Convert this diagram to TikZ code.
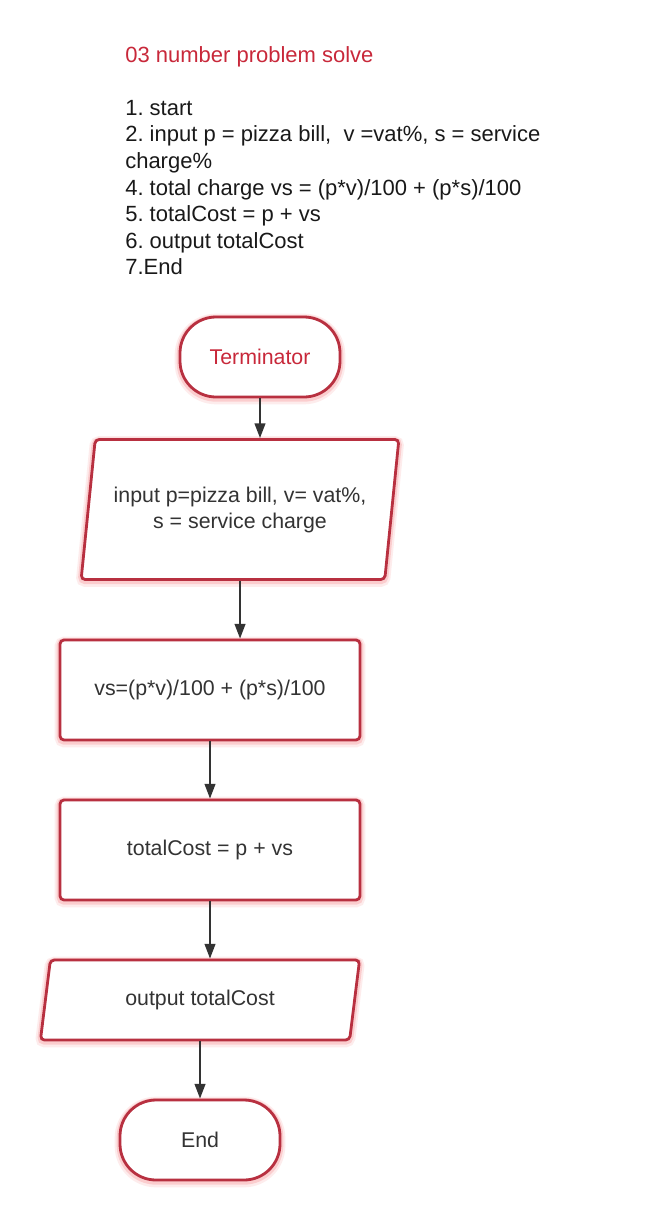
\documentclass[tikz,border=0pt]{standalone}
\usepackage{fontspec}
\setmainfont{Liberation Sans}
\usetikzlibrary{shapes.geometric,arrows.meta}
\definecolor{lucidred}{HTML}{B83040}
\definecolor{titlered}{HTML}{C8283A}
\definecolor{inkgray}{HTML}{333333}
\frenchspacing

\begin{document}
\begin{tikzpicture}[x=0.75pt,y=-0.75pt,
  glow/.style={preaction={draw=red!70!lucidred,draw opacity=0.08,line width=8pt,transform canvas={yshift=-1.5pt}},
               preaction={draw=red!70!lucidred,draw opacity=0.14,line width=5pt,transform canvas={yshift=-1pt}}},
  box/.style={draw=lucidred,line width=2.1pt,fill=white,glow,text=inkgray,
              font=\fontsize{16pt}{19.5pt}\selectfont,align=center},
  terminal/.style={box,rectangle,rounded corners=27pt,minimum width=120pt,minimum height=60pt},
  process/.style={box,rectangle,rounded corners=3pt,minimum width=225pt,minimum height=75pt},
  io/.style={box,trapezium,trapezium stretches=true,rounded corners=3pt,inner sep=0pt},
  flow/.style={draw=inkgray,line width=1.4pt,-{Triangle[length=11pt,width=8pt]}},
  listtext/.style={inner sep=0pt,align=left,
                   font=\fontsize{16.5pt}{19.9pt}\selectfont}]
        \useasboundingbox (0,0) rectangle (660,1220);
        % algorithm text
        \node (title) at (125,63) [listtext, anchor=base west, text=titlered] {03 number problem solve};
        \node (steps) at (125,100) [listtext, anchor=north west, text=black!90] {1. start\\
            2. input p = pizza bill,\ \ v =vat\%, s = service\\
            charge\%\\
            4. total charge vs = (p*v)/100 + (p*s)/100\\
            5. totalCost = p + vs\\
            6. output totalCost\\
            7.End};
        % flowchart
        \node (start) at (260,357) [terminal, text=titlered] {Terminator};
        \node (input) at (240,509.5) [io, trapezium left angle=75, trapezium right angle=105,
            minimum width=238.5pt, minimum height=105pt] {input p=pizza bill, v= vat\%,\\s = service charge};
        \node (vs) at (210,690) [process] {vs=(p*v)/100 + (p*s)/100};
        \node (total) at (210,850) [process] {totalCost = p + vs};
        \node (output) at (200,1000) [io, trapezium left angle=76, trapezium right angle=104,
            minimum width=239.5pt, minimum height=60pt] {output totalCost};
        \node (end) at (200,1140) [terminal] {End};
        \draw [flow] (start.south) -- (start.south |- input.north);
        \draw [flow] (input.south) -- (input.south |- vs.north);
        \draw [flow] (vs.south) -- (vs.south |- total.north);
        \draw [flow] (total.south) -- (total.south |- output.north);
        \draw [flow] (output.south) -- (output.south |- end.north);
    \end{tikzpicture}
\end{document}
